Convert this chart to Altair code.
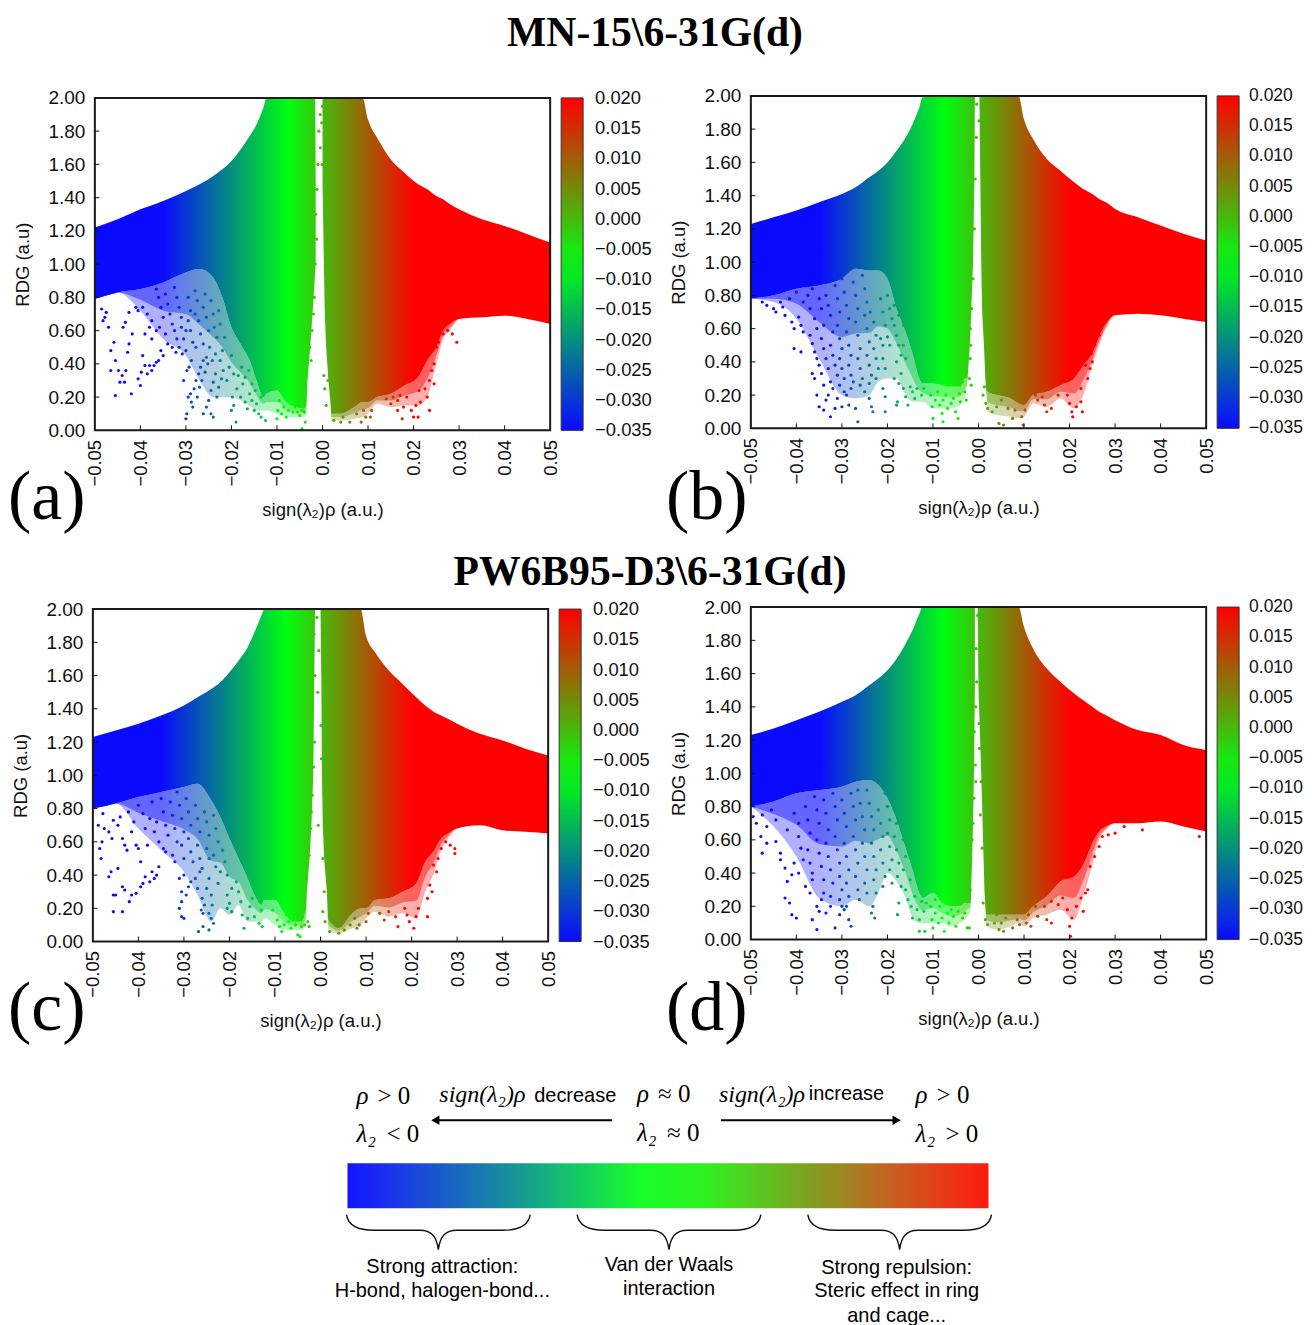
import altair as alt
import pandas as pd

SANS = "Liberation Sans"
SERIF = "Liberation Serif"

TITLE_1 = "MN-15\\6-31G(d)"
TITLE_2 = "PW6B95-D3\\6-31G(d)"
X_TICKS = [-0.05, -0.04, -0.03, -0.02, -0.01, 0.0, 0.01, 0.02, 0.03, 0.04, 0.05]
Y_TICKS = [0.0, 0.2, 0.4, 0.6, 0.8, 1.0, 1.2, 1.4, 1.6, 1.8, 2.0]
CB_TICKS = [-0.035, -0.03, -0.025, -0.02, -0.015, -0.01, -0.005, 0.0, 0.005, 0.01, 0.015, 0.02]
CB_DOMAIN = [-0.035, -0.0075, 0.02]
CB_COLORS = ["#0a0aff", "#00ff10", "#ff0000"]

# common abscissae of the upper / lower edge of the dense cloud
ENV_X = [-.05, -.045, -.04, -.035, -.03, -.027, -.024, -.022, -.02, -.018, -.016, -.0145, -.013, -.0123,
         -.01, -.008, -.006, -.004, -.003, 0, .002, .004, .007, .0088, .01, .012, .015, .018, .021, .023,
         .025, .0265, .028, .03, .035, .04, .045, .05]

A_UP = [1.22, 1.27, 1.33, 1.38, 1.44, 1.48, 1.53, 1.57, 1.62, 1.69, 1.77, 1.84, 1.94, 2, 2, 2, 2, 2, 2, 2, 2, 2, 2, 2,
        1.87, 1.76, 1.63, 1.55, 1.48, 1.45, 1.41, 1.39, 1.36, 1.33, 1.27, 1.23, 1.18, 1.13]
A_LO = [.79, .83, .85, .89, .95, .97, .92, .8, .62, .52, .42, .3, .2, .22, .24, .17, .14, .13, .18, .18, .1, .1, .14, .17,
        .17, .2, .22, .27, .32, .42, .5, .6, .64, .67, .68, .69, .67, .64]
B_UP = [1.23, 1.27, 1.31, 1.36, 1.41, 1.45, 1.51, 1.55, 1.6, 1.67, 1.75, 1.83, 1.93, 1.99, 2, 2, 2, 2, 2, 2, 2, 2, 2, 2,
        1.86, 1.74, 1.62, 1.55, 1.48, 1.44, 1.41, 1.38, 1.36, 1.32, 1.27, 1.22, 1.17, 1.13]
B_LO = [.78, .8, .84, .86, .9, .96, .95, .95, .9, .72, .58, .45, .3, .27, .27, .26, .25, .25, .3, .3, .22, .2, .18, .15,
        .14, .2, .22, .26, .3, .38, .45, .55, .63, .68, .69, .68, .66, .64]
C_UP = [1.23, 1.27, 1.31, 1.36, 1.42, 1.47, 1.52, 1.56, 1.62, 1.69, 1.77, 1.86, 1.96, 2, 2, 2, 2, 2, 2, 2, 2, 2, 2, 2,
        1.84, 1.74, 1.63, 1.55, 1.47, 1.42, 1.38, 1.36, 1.34, 1.31, 1.25, 1.21, 1.16, 1.12]
C_LO = [.8, .83, .87, .9, .93, .95, .85, .75, .62, .5, .38, .28, .22, .25, .25, .17, .12, .12, .2, .2, .12, .08, .17, .2,
        .2, .25, .26, .3, .35, .48, .55, .62, .65, .68, .7, .67, .66, .65]
D_UP = [1.23, 1.27, 1.32, 1.37, 1.43, 1.47, 1.53, 1.57, 1.62, 1.69, 1.78, 1.86, 1.96, 2, 2, 2, 2, 2, 2, 2, 2, 2, 2, 2,
        1.88, 1.75, 1.63, 1.55, 1.48, 1.44, 1.4, 1.37, 1.35, 1.32, 1.26, 1.23, 1.17, 1.14]
D_LO = [.8, .83, .88, .9, .92, .95, .96, .93, .85, .72, .55, .42, .28, .25, .28, .22, .2, .2, .22, .22, .15, .15, .15, .15,
        .15, .2, .26, .35, .38, .45, .58, .65, .68, .7, .7, .71, .68, .65]

# lower limit of the speckled zone below each cloud
A_SPK = [.79, .83, .72, .55, .45, .3, .2, .2, .2, .18, .15, .12, .12, .12, .1, .08, .08, .08, .1, .18, .06, .06, .07, .08,
         .1, .16, .14, .15, .15, .2, .4, .55, .6, .67, .68, .69, .67, .64]
B_SPK = [.78, .76, .66, .42, .2, .18, .2, .28, .3, .3, .2, .16, .16, .16, .12, .12, .12, .14, .18, .3, .1, .08, .07, .06,
         .07, .15, .13, .18, .12, .2, .38, .5, .6, .68, .69, .68, .66, .64]
C_SPK = [.8, .83, .68, .55, .42, .28, .12, .2, .16, .22, .12, .12, .12, .14, .1, .07, .07, .07, .12, .2, .06, .05, .08, .1,
         .14, .18, .15, .17, .14, .3, .42, .55, .62, .68, .7, .67, .66, .65]
D_SPK = [.8, .68, .5, .25, .2, .24, .2, .28, .4, .35, .25, .13, .1, .1, .1, .1, .08, .1, .12, .22, .08, .06, .08, .1,
         .08, .13, .15, .18, .12, .26, .45, .6, .66, .7, .7, .71, .68, .65]

# white gap around zero: ordinates, left and right edge
GAP_Y = [2.0, 1.5, 1.0, 0.7, 0.5, 0.3, 0.15, 0.0]
A_GAP_L = [-.0016, -.0015, -.0015, -.0022, -.0027, -.0033, -.0035, -.0035]
A_GAP_R = [.0000, .0000, .0003, .0005, .0008, .0013, .0018, .0020]
B_GAP_L = [-.0008, -.0009, -.0012, -.0016, -.0019, -.0024, -.0030, -.0030]
B_GAP_R = [.0002, .0004, .0006, .0008, .0012, .0015, .0019, .0022]
C_GAP_L = [-.0012, -.0014, -.0016, -.0020, -.0024, -.0030, -.0032, -.0032]
C_GAP_R = [.0000, .0002, .0003, .0005, .0008, .0014, .0016, .0018]
D_GAP_L = [-.0008, -.0008, -.0010, -.0012, -.0014, -.0016, -.0018, -.0020]
D_GAP_R = [-.0002, .0000, .0006, .0009, .0011, .0013, .0016, .0018]

A_PTS = [(-.0485,.73),(-.0478,.68),(-.0475,.71),(-.047,.62),(-.0482,.66),(-.0465,.48),(-.0458,.53),(-.0455,.42),(-.0465,.36),
 (-.0448,.36),(-.0445,.29),(-.044,.33),(-.0455,.21),(-.0435,.29),(-.0432,.36),(-.0428,.47),(-.0425,.52),(-.0438,.62),(-.0433,.65),
 (-.0425,.71),(-.0418,.58),(-.042,.22),(-.0405,.31),(-.04,.27),(-.0395,.45),(-.0398,.35),(-.039,.39),(-.0385,.34),(-.038,.39),
 (-.0375,.36),(-.037,.39),(-.0365,.41),(-.036,.42),(-.0355,.48),(-.035,.45),(-.039,.58),(-.0385,.70),(-.0395,.74),(-.038,.62),
 (-.0375,.66),(-.0405,.72),(-.041,.74),(-.0375,.55),(-.0365,.6),(-.0365,.85),(-.036,.8),(-.0355,.74),(-.035,.68),(-.0358,.62),
 (-.0345,.82),(-.034,.76),(-.0335,.7),(-.033,.64),(-.0345,.58),(-.034,.52),(-.0325,.86),(-.032,.8),(-.0315,.74),(-.031,.68),
 (-.0325,.6),(-.032,.55),(-.0315,.5),(-.031,.62),(-.0305,.55),(-.03,.48),(-.0295,.8),(-.029,.72),(-.0295,.66),(-.029,.6),
 (-.0285,.53),(-.033,.5),(-.0322,.47),(-.0308,.46),(-.03,.6),(-.028,.84),(-.0275,.78),(-.028,.7),(-.0272,.66),(-.0268,.58),
 (-.0278,.5),(-.0262,.74),(-.0258,.82),(-.0255,.68),(-.025,.6),(-.0262,.52),(-.0245,.78),(-.024,.7),(-.0238,.62),(-.0248,.5),
 (-.0232,.56),(-.0228,.72),(-.0225,.64),(-.022,.48),(-.0215,.56),(-.0235,.46),(-.0242,.42),(-.0255,.44),(-.0225,.42),
 (-.03,.07),(-.0298,.1),(-.0305,.3),(-.0298,.36),(-.0293,.38),(-.0288,.42),(-.0295,.2),(-.029,.22),(-.0288,.17),(-.0282,.25),
 (-.0278,.3),(-.0272,.34),(-.0268,.38),(-.0262,.42),(-.0285,.14),(-.0275,.2),(-.027,.26),(-.0265,.3),(-.0258,.35),(-.0252,.4),
 (-.0262,.1),(-.0255,.14),(-.025,.18),(-.0245,.24),(-.024,.29),(-.0235,.34),(-.0245,.1),(-.024,.08),(-.0232,.2),(-.0228,.26),
 (-.0222,.31),(-.0218,.36),(-.021,.3),(-.0205,.38),(-.02,.45),(-.0195,.34),
 (-.019,.05),(-.02,.12),(-.0198,.2),(-.0195,.15),(-.0188,.25),(-.018,.2),(-.0175,.28),(-.017,.17),(-.0165,.13),(-.016,.22),
 (-.0155,.18),(-.015,.12),(-.0145,.16),(-.014,.1),(-.0135,.08),(-.0125,.06),(-.0185,.33),(-.0178,.38),(-.017,.32),(-.0162,.36),
 (-.0155,.28),(-.0148,.24),(-.0135,.2),(-.01,.07),(-.0098,.12),(-.0095,.18),(-.009,.1),(-.0085,.14),(-.008,.08),(-.0075,.12),
 (-.007,.16),(-.0065,.11),(-.006,.14),(-.0055,.11),(-.005,.09),(-.0045,.12),(-.004,.11),(-.0038,.05),(-.0045,.01),
 (-.0028,.5),(-.0025,.42),(-.0023,.6),(-.002,.7),(-.0018,.8),(-.0016,1.0),(-.0013,1.15),(-.0015,1.3),(-.0012,1.45),(-.0008,1.8),
 (-.001,1.6),(0,1.95),(-.0002,1.85),(-.0005,1.7),(.0003,.33),(.0005,.25),(.0008,.15),(.0012,.3),(.0015,.42),(-.0005,1.9),(-.0001,1.6),
 (.0025,.06),(.004,.05),(.006,.05),(.0085,.05),(.0095,.08),(.0105,.08),(.0108,.12),(.0045,.08),(.0075,.1),(.009,.12),
 (.013,.24),(.015,.16),(.0165,.12),(.0175,.07),(.0165,.18),(.0178,.14),(.0185,.2),(.0195,.12),(.02,.08),(.0205,.15),(.021,.08),
 (.0215,.17),(.0212,.24),(.0235,.12),(.0235,.3),(.024,.36),(.0245,.4),(.0235,.46),(.025,.5),(.0255,.53),(.0265,.58),(.0275,.6),
 (.0285,.58),(.0295,.53),(.0245,.28),(.023,.2),(.0225,.25),(.014,.19),(.0155,.2),(.017,.21)]

B_PTS = [(-.0475,.76),(-.0465,.74),(-.045,.72),(-.0445,.7),(-.0435,.76),(-.043,.73),(-.0425,.68),(-.041,.64),(-.0405,.6),(-.0395,.67),
 (-.039,.62),(-.0385,.58),(-.0405,.48),(-.039,.46),(-.037,.56),(-.0365,.51),(-.036,.46),(-.0355,.42),(-.035,.38),(-.0345,.33),
 (-.0365,.33),(-.036,.3),(-.034,.26),(-.0355,.2),(-.035,.13),(-.034,.11),(-.0335,.17),(-.033,.2),(-.0325,.07),(-.032,.24),(-.0315,.12),
 (-.031,.18),(-.03,.13),(-.029,.2),(-.0285,.14),(-.028,.24),(-.027,.12),(-.0265,.04),(-.0415,.78),(-.04,.82),(-.0385,.76),(-.0375,.8),
 (-.037,.72),(-.036,.66),(-.0355,.6),(-.0365,.84),(-.035,.78),(-.0345,.72),(-.034,.62),(-.0345,.54),(-.034,.48),(-.0335,.42),(-.033,.36),
 (-.0335,.8),(-.033,.74),(-.0325,.68),(-.032,.58),(-.0325,.5),(-.032,.44),(-.0315,.38),(-.031,.32),(-.0325,.28),(-.0315,.86),(-.031,.78),
 (-.0305,.7),(-.031,.62),(-.0305,.54),(-.03,.48),(-.0305,.42),(-.03,.36),(-.0295,.3),(-.0305,.26),(-.0295,.22),(-.03,.9),(-.0295,.82),
 (-.029,.74),(-.0285,.66),(-.029,.58),(-.0285,.5),(-.028,.44),(-.0285,.38),(-.028,.32),(-.0275,.28),(-.028,.96),(-.0275,.88),(-.027,.8),
 (-.0265,.72),(-.027,.64),(-.0265,.56),(-.026,.48),(-.0265,.42),(-.026,.36),(-.0255,.3),(-.026,.26),(-.025,.22),(-.0255,.92),(-.025,.84),
 (-.0245,.76),(-.025,.68),(-.0245,.6),(-.024,.52),(-.0245,.44),(-.024,.38),(-.0235,.32),(-.024,.27),(-.024,.18),(-.0235,.13),(-.0232,.1),
 (-.0238,.7),(-.023,.64),(-.0225,.56),(-.023,.48),(-.0225,.42),(-.022,.36),(-.0225,.3),(-.021,.42),(-.0205,.36),(-.0215,.78),(-.021,.7),
 (-.0205,.62),(-.0215,.54),(-.021,.5),(-.02,.55),(-.0195,.72),(-.02,.8),(-.019,.66),(-.0185,.62),(-.0195,.5),(-.0185,.74),(-.0175,.68),
 (-.018,.56),(-.0175,.5),(-.017,.44),(-.018,.4),(-.0165,.62),(-.0162,.72),(-.0165,.5),(-.016,.42),(-.017,.33),(-.0185,.3),(-.0175,.27),
 (-.021,.24),(-.0205,.19),(-.0205,.1),(-.018,.14),(-.0178,.16),(-.016,.19),(-.0155,.14),(-.0165,.24),(-.015,.25),(-.0145,.22),(-.014,.18),
 (-.0135,.24),(-.0125,.2),(-.012,.24),(-.0105,.2),(-.0102,.13),(-.01,.06),(-.0095,.17),(-.009,.22),(-.0085,.14),(-.008,.09),(-.0078,.17),
 (-.0078,.04),(-.0072,.2),(-.0068,.12),(-.006,.15),(-.0055,.18),(-.005,.1),(-.0045,.06),(-.0042,.21),(-.004,.16),(-.0035,.28),(-.003,.22),
 (-.0027,.17),(-.0018,.6),(-.0017,.5),(-.002,.3),(-.0015,.72),(-.0012,.9),(-.0009,1.2),(-.0007,1.5),(-.0005,1.75),(-.0004,1.95),(.0001,1.85),
 (-.0016,.26),(-.0018,.42),(.001,.2),(.0013,.25),(.0016,.15),(.002,.12),(.003,.1),(.004,.13),(.0045,.03),(.005,.17),(.0055,.02),(.0065,.12),
 (.0075,.06),(.008,.11),(.0095,.07),(.0098,.02),(.0102,.11),(.0125,.2),(.013,.17),(.014,.19),(.0145,.14),(.015,.1),(.016,.12),(.0175,.2),
 (.0195,.2),(.02,.15),(.0205,.1),(.0207,.07),(.0215,.13),(.0225,.16),(.0228,.1),(.0225,.24),(.024,.3),(.0245,.36),(.025,.4),(.0248,.45),
 (.0255,.5),(.0265,.56),(.0272,.62),(.0235,.38)]

C_PTS = [(-.0488,.7),(-.0478,.77),(-.0475,.68),(-.048,.6),(-.0485,.56),(-.0482,.5),(-.0465,.39),(-.046,.42),(-.0445,.44),(-.0455,.28),
 (-.045,.28),(-.0455,.18),(-.0435,.18),(-.0435,.33),(-.043,.31),(-.042,.24),(-.0415,.28),(-.0405,.29),(-.0395,.33),(-.039,.35),(-.0385,.39),
 (-.0375,.36),(-.037,.42),(-.0365,.38),(-.036,.4),(-.0355,.45),(-.0465,.66),(-.0458,.62),(-.0455,.73),(-.0445,.7),(-.044,.75),(-.0435,.62),
 (-.043,.58),(-.0425,.55),(-.0422,.78),(-.0415,.66),(-.041,.72),(-.0405,.58),(-.04,.56),(-.0395,.48),(-.04,.82),(-.039,.77),(-.0385,.68),
 (-.038,.58),(-.0375,.74),(-.037,.84),(-.0365,.66),(-.036,.72),(-.0355,.6),(-.035,.86),(-.0345,.78),(-.034,.7),(-.0335,.64),(-.0345,.56),
 (-.034,.54),(-.033,.84),(-.0325,.76),(-.032,.68),(-.0315,.6),(-.0325,.52),(-.032,.48),(-.0315,.9),(-.031,.82),(-.0305,.74),(-.03,.66),
 (-.0305,.58),(-.03,.5),(-.0295,.86),(-.029,.78),(-.0285,.7),(-.029,.62),(-.0285,.54),(-.028,.48),(-.0275,.82),(-.027,.74),(-.0265,.66),
 (-.027,.58),(-.0265,.5),(-.026,.44),(-.0255,.78),(-.025,.72),(-.0245,.64),(-.025,.56),(-.0245,.5),(-.0235,.76),(-.023,.68),(-.0225,.6),
 (-.0235,.52),(-.023,.45),(-.0215,.55),(-.021,.48),(-.022,.42),(-.0205,.4),(-.03,.4),(-.031,.38),(-.0305,.3),(-.031,.2),(-.0305,.24),(-.0305,.15),
 (-.03,.14),(-.0295,.28),(-.029,.33),(-.0285,.36),(-.0275,.38),(-.027,.32),(-.0265,.42),(-.026,.26),(-.0255,.22),(-.0262,.19),(-.0258,.17),
 (-.0268,.06),(-.0258,.09),(-.0245,.07),(-.025,.32),(-.0245,.38),(-.024,.28),(-.0238,.22),(-.0245,.17),(-.024,.14),(-.0235,.11),(-.0225,.35),
 (-.0205,.28),(-.0205,.2),(-.02,.23),(-.0195,.18),(-.0195,.32),(-.0185,.36),(-.018,.3),(-.0175,.24),(-.0172,.16),(-.0168,.08),(-.016,.14),
 (-.0155,.21),(-.015,.26),(-.0145,.15),(-.0135,.11),(-.0128,.09),(-.013,.19),(-.0105,.19),(-.0095,.13),(-.009,.09),(-.0085,.06),(-.008,.1),
 (-.0075,.16),(-.007,.12),(-.0065,.08),(-.006,.15),(-.0055,.1),(-.005,.04),(-.0045,.03),(-.0042,.09),(-.0035,.1),(-.0028,.12),(-.0025,.09),
 (-.0028,.6),(-.0025,.52),(-.0022,.68),(-.002,.78),(-.0018,.88),(-.0015,1.05),(-.0013,1.2),(-.0017,1.4),(-.0012,1.6),(-.0014,1.85),(-.0004,1.75),
 (-.0008,1.95),(-.0006,1.5),(.0001,1.3),(.0002,1.1),(-.0005,.7),(.0005,.5),(.0008,.3),(.0015,.36),(.0005,.18),(.001,.12),
 (.002,.06),(.004,.05),(.0052,.07),(.0065,.1),(.0075,.14),(.008,.08),(.0085,.1),(.01,.12),(.0105,.17),(.013,.17),(.014,.13),(.015,.18),(.0165,.15),
 (.017,.09),(.0185,.2),(.019,.16),(.0195,.12),(.0205,.08),(.021,.15),(.0215,.2),(.0235,.15),(.0235,.26),(.024,.34),(.0245,.3),(.0248,.46),
 (.0255,.42),(.0258,.5),(.0265,.56),(.0275,.6),(.0295,.56),(.0295,.53),(.0285,.58)]

D_PTS = [(-.0495,.74),(-.0488,.7),(-.0475,.75),(-.0465,.68),(-.0478,.62),(-.0465,.58),(-.0455,.78),(-.0445,.72),(-.0445,.59),(-.0435,.52),
 (-.0475,.52),(-.0435,.48),(-.0425,.43),(-.042,.35),(-.0425,.25),(-.0415,.22),(-.041,.15),(-.04,.13),(-.041,.39),(-.0405,.46),(-.0395,.4),(-.038,.32),
 (-.0365,.36),(-.037,.28),(-.0365,.12),(-.0355,.06),(-.0355,.2),(-.035,.17),(-.0345,.24),(-.034,.28),(-.0335,.16),(-.0325,.2),(-.0315,.07),(-.0305,.15),
 (-.0295,.18),(-.028,.08),(-.042,.66),(-.0405,.76),(-.0395,.7),(-.0395,.62),(-.039,.55),(-.0385,.48),(-.038,.8),(-.0375,.72),(-.037,.64),(-.0375,.54),
 (-.037,.46),(-.0365,.4),(-.036,.86),(-.0355,.78),(-.035,.7),(-.0355,.6),(-.035,.52),(-.0345,.44),(-.034,.36),(-.034,.84),(-.0335,.76),(-.033,.66),
 (-.0335,.58),(-.033,.5),(-.0325,.42),(-.032,.34),(-.0325,.26),(-.032,.88),(-.0315,.8),(-.031,.72),(-.0315,.62),(-.031,.54),(-.0305,.46),(-.0305,.38),
 (-.03,.3),(-.0305,.24),(-.03,.2),(-.03,.84),(-.0295,.76),(-.029,.68),(-.0295,.58),(-.029,.5),(-.0285,.42),(-.029,.34),(-.0285,.26),(-.029,.2),(-.0285,.12),
 (-.028,.88),(-.0275,.8),(-.027,.72),(-.0275,.62),(-.027,.54),(-.0265,.46),(-.027,.38),(-.0265,.3),(-.0262,.24),(-.0265,.9),(-.026,.82),(-.0255,.74),
 (-.025,.66),(-.0255,.58),(-.025,.5),(-.0245,.42),(-.025,.34),(-.0245,.28),(-.0245,.9),(-.024,.82),(-.0235,.74),(-.023,.66),(-.0235,.58),(-.023,.5),
 (-.0225,.42),(-.023,.36),(-.0225,.28),(-.0232,.2),(-.0235,.16),(-.0228,.13),(-.022,.78),(-.0215,.7),(-.021,.62),(-.0215,.54),(-.021,.46),(-.0205,.38),
 (-.021,.32),(-.0205,.88),(-.02,.8),(-.0195,.72),(-.02,.64),(-.0195,.56),(-.019,.48),(-.0195,.42),(-.019,.34),(-.0185,.78),(-.018,.7),(-.0185,.62),(-.018,.54),
 (-.0175,.46),(-.0178,.38),(-.0172,.74),(-.017,.66),(-.0165,.6),(-.016,.5),(-.0165,.42),(-.017,.32),(-.0175,.22),(-.0178,.15),(-.016,.3),(-.015,.36),(-.0155,.24),
 (-.0148,.2),(-.0145,.13),(-.014,.26),(-.0135,.18),(-.0125,.23),(-.013,.12),(-.013,.05),(-.012,.17),(-.0115,.22),(-.0118,.05),(-.0105,.2),(-.0102,.12),(-.01,.07),
 (-.0095,.24),(-.0095,.16),(-.0088,.1),(-.0085,.2),(-.008,.13),(-.0075,.05),(-.0075,.24),(-.0068,.16),(-.0065,.1),(-.006,.18),(-.0055,.14),(-.005,.24),(-.005,.08),
 (-.0045,.17),(-.004,.22),(-.0035,.13),(-.003,.16),(-.0025,.07),(-.002,.07),(-.0018,.3),
 (-.0014,.6),(-.0012,.7),(-.001,.85),(-.0007,1.05),(-.0009,1.25),(-.0006,1.4),(-.0004,1.55),(-.0005,1.75),(-.0002,1.95),(-.0006,.95),(.0002,1.15),(.0001,1.3),
 (.0004,.75),(.0006,.95),(.0008,.55),(.001,.22),(.0015,.12),(.002,.09),(.0035,.1),(.004,.15),(.0045,.06),(.005,.1),(.0055,.05),(.006,.13),(.0075,.07),
 (.0085,.12),(.009,.09),(.0105,.1),(.011,.15),(.0115,.08),(.0125,.2),(.013,.14),(.0145,.2),(.015,.12),(.016,.23),(.016,.1),(.0175,.21),(.0185,.25),(.0195,.18),
 (.02,.08),(.0205,.13),(.0202,.02),(.0215,.2),(.023,.17),(.0225,.25),(.0235,.28),(.024,.3),(.0245,.44),(.0255,.5),(.0265,.56),(.0272,.62),(.0285,.63),(.03,.64),(.032,.68),(.036,.66),(.0485,.62)]


def cloud_gradient():
    return {"gradient": "linear", "x1": 0, "x2": 1, "y1": 0, "y2": 0,
            "stops": [{"offset": 0, "color": CB_COLORS[0]}, {"offset": 0.15, "color": CB_COLORS[0]},
                      {"offset": 0.425, "color": CB_COLORS[1]}, {"offset": 0.7, "color": CB_COLORS[2]},
                      {"offset": 1, "color": CB_COLORS[2]}]}


def label(text, x, y, size, font=SANS, align="left", baseline="middle", style="normal", weight="normal"):
    return alt.Chart(pd.DataFrame({"t": [text]})).mark_text(
        font=font, fontSize=size, align=align, baseline=baseline, fontStyle=style, fontWeight=weight, color="#000000"
    ).encode(x=alt.value(x), y=alt.value(y), text="t:N")


def panel(up, lo, spk, gap_l, gap_r, pts, dx, dy, letter, cb_font, cb_x, extra):
    x_scale = alt.Scale(domain=[-0.05, 0.05], range=[dx, dx + 456], nice=False, zero=False)
    y_scale = alt.Scale(domain=[0, 2], range=[dy + 333, dy], nice=False, zero=False)
    x_ax = alt.Axis(values=X_TICKS, format=".2f", labelAngle=270, labelAlign="right", labelBaseline="middle",
                    tickSize=0, domain=False, grid=False, labelFont=SANS, labelFontSize=18.5, labelPadding=9,
                    labelColor="#111", title="sign(λ₂)ρ (a.u.)", titleFont=SANS, titleFontSize=18.5,
                    titleFontWeight="normal", titleColor="#111", titlePadding=14,
                    offset=(dy - 2), labelOverlap=False, labelFlush=False)
    y_ax = alt.Axis(values=Y_TICKS, format=".2f", tickSize=0, domain=False, grid=False, labelFont=SANS,
                    labelFontSize=19, labelPadding=10, labelColor="#111", title="RDG (a.u)", titleFont=SANS,
                    titleFontSize=18.5, titleFontWeight="normal", titleColor="#111", titlePadding=15,
                    offset=-dx, labelOverlap=False, labelFlush=False)
    X = alt.X("x:Q", scale=x_scale, axis=x_ax)
    Y = alt.Y("y:Q", scale=y_scale, axis=y_ax)

    env = pd.DataFrame({"x": ENV_X, "y": up, "y2": lo, "y3": spk})
    cloud = alt.Chart(env).mark_area(color=cloud_gradient(), interpolate="monotone").encode(
        x=X, y=Y, y2="y2:Q")
    speck_far = alt.Chart(env).mark_area(color=cloud_gradient(), interpolate="monotone", opacity=0.32).encode(
        x=X, y=alt.Y("y2:Q", scale=y_scale, axis=y_ax), y2="y3:Q")
    speck_near = alt.Chart(env).transform_calculate(ym="(datum.y2 + datum.y3) / 2").mark_area(
        color=cloud_gradient(), interpolate="monotone", opacity=0.45).encode(
        x=X, y=alt.Y("y2:Q", scale=y_scale, axis=y_ax), y2="ym:Q")
    gap = pd.DataFrame({"x": gap_l, "x2": gap_r, "y": GAP_Y})
    white = alt.Chart(gap).mark_area(orient="horizontal", color="#ffffff").encode(x=X, x2="x2:Q", y=Y)
    dots = pd.DataFrame(pts, columns=["x", "y"])
    legend = alt.Legend(orient="none", legendX=dx + 467, legendY=dy, gradientLength=333, gradientThickness=22,
                        values=CB_TICKS, title=None, labelExpr="''", labelFontSize=1,
                        direction="vertical", gradientStrokeColor="#333", gradientStrokeWidth=1)
    points = alt.Chart(dots).mark_circle(size=10, opacity=1).encode(
        x=X, y=Y,
        color=alt.Color("x:Q", scale=alt.Scale(domain=CB_DOMAIN, range=CB_COLORS, clamp=True, interpolate="rgb"),
                        legend=legend))
    x_tick = alt.Chart(pd.DataFrame({"x": X_TICKS[1:-1], "y": [0.0] * 9, "y2": [0.03] * 9})).mark_rule(
        color="#111", strokeWidth=1).encode(x=X, y=Y, y2="y2:Q")
    y_tick = alt.Chart(pd.DataFrame({"y": Y_TICKS[1:-1], "x": [-0.05] * 9, "x2": [-0.049] * 9})).mark_rule(
        color="#111", strokeWidth=1).encode(x=X, x2="x2:Q", y=Y)
    frame = alt.Chart(pd.DataFrame({"x": [-0.05], "x2": [0.05], "y": [0.0], "y2": [2.0]})).mark_rect(
        fillOpacity=0, stroke="#1a1a1a", strokeWidth=2).encode(x=X, x2="x2:Q", y=Y, y2="y2:Q")
    cb_data = alt.Chart(pd.DataFrame({"v": CB_TICKS})).transform_calculate(y="(datum.v + 0.035) / 0.055 * 2")
    cb_ticks = cb_data.transform_filter("datum.v > -0.035 && datum.v < 0.02").mark_rule(
        color="#222", strokeWidth=1.2).encode(x=alt.value(dx + 484), x2=alt.value(dx + 489), y=Y)
    cb_labels = cb_data.mark_text(font=SANS, fontSize=cb_font, align="left", baseline="middle", color="#111").encode(
        x=alt.value(dx + cb_x), y=Y, text=alt.Text("v:Q", format=".3f"))
    tag = label(letter, -85, 424, 70, font=SERIF, baseline="alphabetic")
    return alt.layer(speck_far, speck_near, cloud, white, points, x_tick, y_tick, cb_ticks, frame, cb_labels, tag,
                     *extra).properties(width=458, height=335, view=alt.ViewConfig(stroke=None))


title_1 = label(TITLE_1, 563, -63, 41.7, font=SERIF, align="center", weight="bold")
title_2 = label(TITLE_2, 558, -35, 41.7, font=SERIF, align="center", weight="bold")

a = panel(A_UP, A_LO, A_SPK, A_GAP_L, A_GAP_R, A_PTS, 2, 2, "(a)", 18.4, 501, [title_1])
b = panel(B_UP, B_LO, B_SPK, B_GAP_L, B_GAP_R, B_PTS, 0, 0, "(b)", 17.5, 499, [])
c = panel(C_UP, C_LO, C_SPK, C_GAP_L, C_GAP_R, C_PTS, 0, 2, "(c)", 18.4, 501, [title_2])
d = panel(D_UP, D_LO, D_SPK, D_GAP_L, D_GAP_R, D_PTS, 0, 0, "(d)", 17.5, 499, [])

OX, OY = 93, 1118


def sx(v):
    return v - OX


def sy(v):
    return v - OY


BRACE = ("M-1,-0.19 C-0.98,-0.06 -0.85,-0.02 -0.7,-0.02 L-0.2,-0.02 C-0.08,-0.02 -0.02,0.04 0,0.19 "
         "C0.02,0.04 0.08,-0.02 0.2,-0.02 L0.7,-0.02 C0.85,-0.02 0.98,-0.06 1,-0.19")


def brace(cx, cy):
    return alt.Chart(pd.DataFrame({"k": [0]})).mark_point(
        shape=BRACE, size=33856, filled=False, color="#111", strokeWidth=1.4, opacity=1
    ).encode(x=alt.value(sx(cx)), y=alt.value(sy(cy)))


def arrow(x_from, x_to, y_pos, head):
    line = alt.Chart(pd.DataFrame({"k": [0]})).mark_rule(color="#000", strokeWidth=2).encode(
        x=alt.value(sx(x_from)), x2=alt.value(sx(x_to)), y=alt.value(sy(y_pos)))
    tip = alt.Chart(pd.DataFrame({"k": [0]})).mark_point(
        shape=head, filled=True, size=90, color="#000", opacity=1
    ).encode(x=alt.value(sx(x_to)), y=alt.value(sy(y_pos)))
    return line + tip


def rel(sym, txt, x, y, gap):
    return label(sym, sx(x), sy(y), 25, font=SERIF, style="italic") + label(txt, sx(x + gap), sy(y), 25, font=SERIF)


BAR_GRADIENT = {"gradient": "linear", "x1": 0, "x2": 1, "y1": 0, "y2": 0,
                "stops": [{"offset": 0, "color": "#1414ff"}, {"offset": 0.06, "color": "#1a30f0"},
                          {"offset": 0.24, "color": "#188aa0"}, {"offset": 0.34, "color": "#14c070"},
                          {"offset": 0.46, "color": "#18ff28"}, {"offset": 0.56, "color": "#30f020"},
                          {"offset": 0.72, "color": "#80a020"}, {"offset": 0.85, "color": "#c86020"},
                          {"offset": 1, "color": "#ff1a10"}]}
bar = alt.Chart(pd.DataFrame({"k": [0]})).mark_rect(color=BAR_GRADIENT).encode(
    x=alt.value(sx(348)), x2=alt.value(sx(990)), y=alt.value(sy(1163)), y2=alt.value(sy(1208)))

schematic = alt.layer(
    bar, brace(439, 1232), brace(670, 1232), brace(901, 1232),
    arrow(613, 436, 1120, "triangle-left"), arrow(722, 898, 1120, "triangle-right"),
    rel("ρ", "> 0", 357, 1096, 21), rel("λ₂", "< 0", 357, 1134, 30),
    rel("ρ", "≈ 0", 638, 1094, 21), rel("λ₂", "≈ 0", 638, 1133, 30),
    rel("ρ", "> 0", 917, 1095, 21), rel("λ₂", "> 0", 917, 1134, 30),
    label("sign(λ₂)ρ", sx(440), sy(1095), 24, font=SERIF, style="italic"),
    label("decrease", sx(535), sy(1096), 20),
    label("sign(λ₂)ρ", sx(720), sy(1095), 24, font=SERIF, style="italic"),
    label("increase", sx(810), sy(1094), 20),
    label("Strong attraction:", sx(443), sy(1267), 20, align="center"),
    label("H-bond, halogen-bond...", sx(443), sy(1291), 20, align="center"),
    label("Van der Waals", sx(670), sy(1265), 20, align="center"),
    label("interaction", sx(670), sy(1289), 20, align="center"),
    label("Strong repulsion:", sx(898), sy(1268), 20, align="center"),
    label("Steric effect in ring", sx(898), sy(1291), 20, align="center"),
    label("and cage...", sx(898), sy(1316), 20, align="center"),
).properties(width=458, height=190, view=alt.ViewConfig(stroke=None))

chart = alt.concat(a, b, c, d, schematic, columns=2, spacing={"row": 177, "column": 201}, bounds="flush").resolve_scale(
    color="independent"
).properties(padding={"left": 0, "top": 4, "right": 0, "bottom": 0}, background="#ffffff")

chart.save("out.html", embed_options={"renderer": "svg", "actions": False})
